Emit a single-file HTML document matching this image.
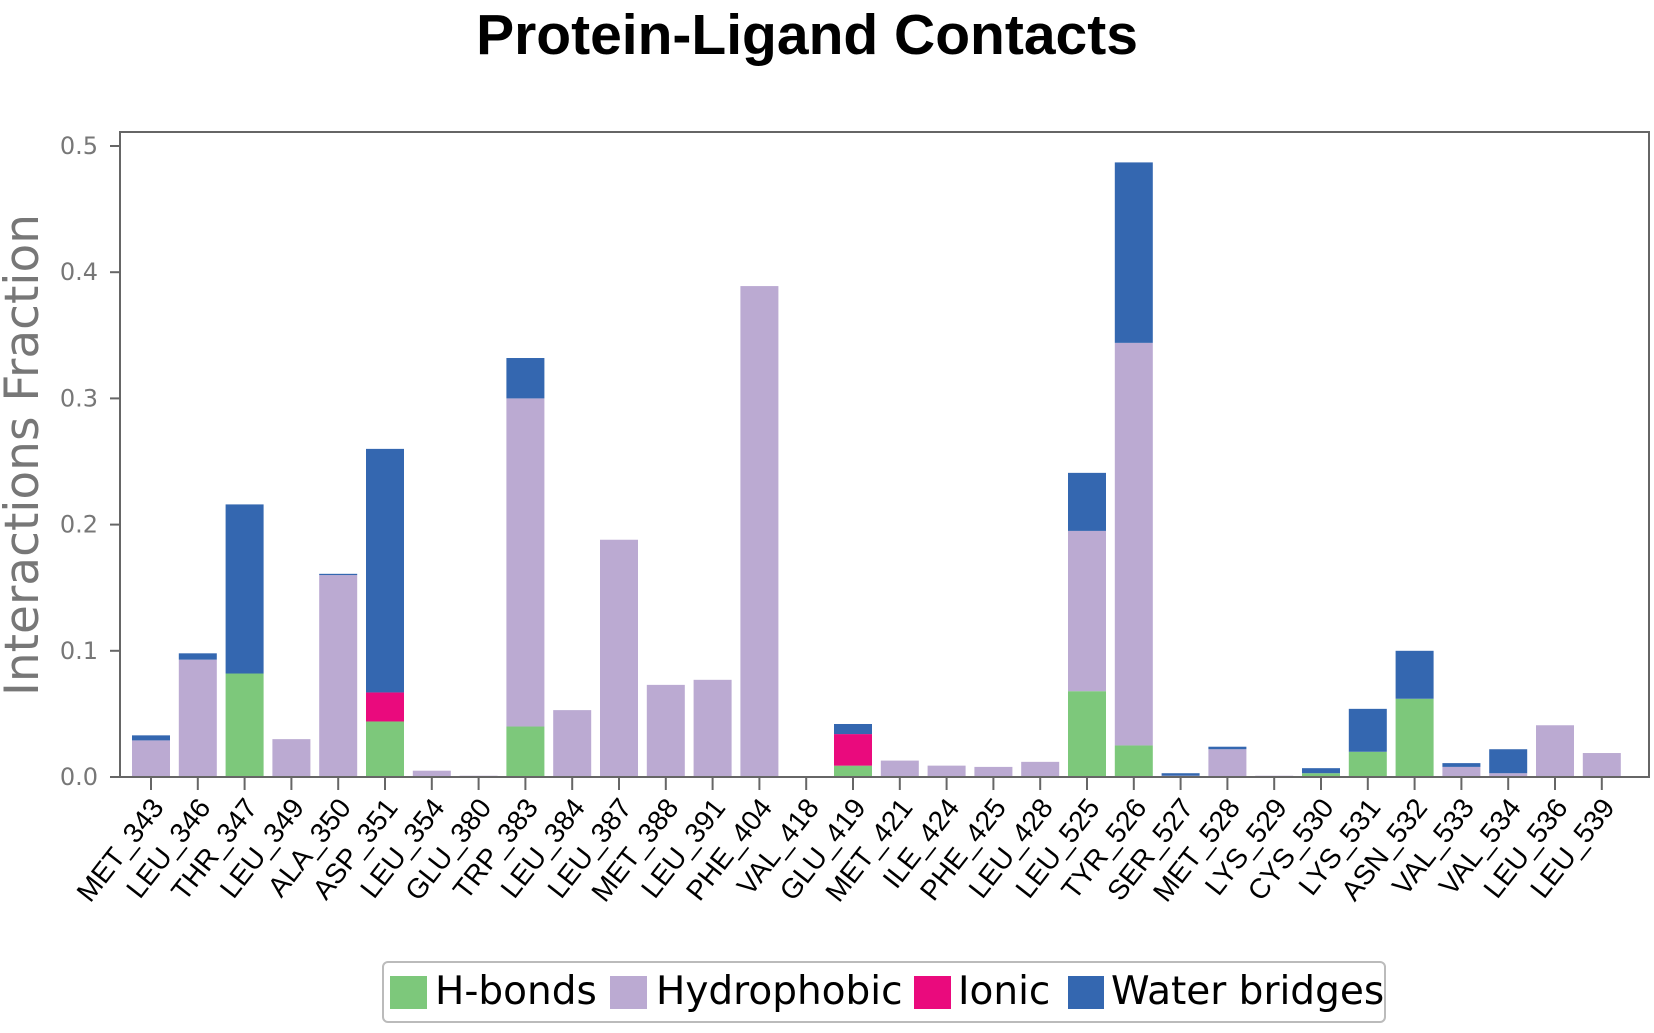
<!DOCTYPE html>
<html><head><meta charset="utf-8"><style>
html,body{margin:0;padding:0;background:#fff;}
svg{display:block;font-family:"DejaVu Sans","Liberation Sans",sans-serif;}
</style></head><body>
<svg id="s" width="1654" height="1033" xmlns="http://www.w3.org/2000/svg">
<text x="807" y="54" text-anchor="middle" font-family="Liberation Sans, sans-serif" font-weight="bold" font-size="57">Protein-Ligand Contacts</text>
<text transform="translate(38,455) rotate(-90)" text-anchor="middle" font-size="47" fill="#777">Interactions Fraction</text>
<g id="g"></g>
<rect x="120" y="132" width="1529" height="645" fill="none" stroke="#666" stroke-width="2"/>
<g>
<rect x="383" y="962" width="1002" height="60" rx="5" fill="#fff" stroke="#bbb" stroke-width="2"/>
<rect x="390" y="976" width="37" height="33" fill="#7dc87b"/>
<text x="435" y="1004" font-size="39">H-bonds</text>
<rect x="610" y="976" width="37" height="33" fill="#bbaad2"/>
<text x="656" y="1004" font-size="39">Hydrophobic</text>
<rect x="914" y="976" width="37" height="33" fill="#ea0a7d"/>
<text x="958" y="1004" font-size="39">Ionic</text>
<rect x="1068" y="976" width="36" height="33" fill="#3467b0"/>
<text x="1111" y="1004" font-size="39">Water bridges</text>
</g>
</svg>
<script>
var d=[["MET_343",0,.029,0,.004],["LEU_346",0,.093,0,.005],["THR_347",.082,0,0,.134],["LEU_349",0,.030,0,0],["ALA_350",0,.160,0,.001],["ASP_351",.044,0,.023,.193],["LEU_354",0,.005,0,0],["GLU_380",0,.001,0,0],["TRP_383",.040,.260,0,.032],["LEU_384",0,.053,0,0],["LEU_387",0,.188,0,0],["MET_388",0,.073,0,0],["LEU_391",0,.077,0,0],["PHE_404",0,.389,0,0],["VAL_418",0,0,0,0],["GLU_419",.009,0,.025,.008],["MET_421",0,.013,0,0],["ILE_424",0,.009,0,0],["PHE_425",0,.008,0,0],["LEU_428",0,.012,0,0],["LEU_525",.068,.127,0,.046],["TYR_526",.025,.319,0,.143],["SER_527",0,.001,0,.002],["MET_528",0,.022,0,.002],["LYS_529",0,.001,0,0],["CYS_530",.003,0,0,.004],["LYS_531",.020,0,0,.034],["ASN_532",.062,0,0,.038],["VAL_533",0,.008,0,.003],["VAL_534",0,.003,0,.019],["LEU_536",0,.041,0,0],["LEU_539",0,.019,0,0]];
var c=["#7dc87b","#bbaad2","#ea0a7d","#3467b0"],s="",y0=777,k=1262;
for(var i=0;i<=5;i++){var y=y0-i*0.1*k;s+='<line x1="110" x2="120" y1="'+y+'" y2="'+y+'" stroke="#666" stroke-width="2"/><text x="98" y="'+(y+8)+'" text-anchor="end" font-size="24" fill="#777">'+(i/10).toFixed(1)+'</text>';}
d.forEach(function(r,i){var x=151+i*46.8,b=0;
for(var j=0;j<4;j++){var h=r[j+1]*k;if(h>0){s+='<rect x="'+(x-19)+'" y="'+(y0-b-h)+'" width="38" height="'+h+'" fill="'+c[j]+'"/>';b+=h;}}
s+='<line x1="'+x+'" x2="'+x+'" y1="777" y2="790" stroke="#666" stroke-width="2"/>';
s+='<text transform="translate('+(x+14)+',808) rotate(-52)" text-anchor="end" font-family="Liberation Sans, sans-serif" font-size="28">'+r[0]+'</text>';});
document.getElementById("g").innerHTML=s;
</script>
</body></html>
